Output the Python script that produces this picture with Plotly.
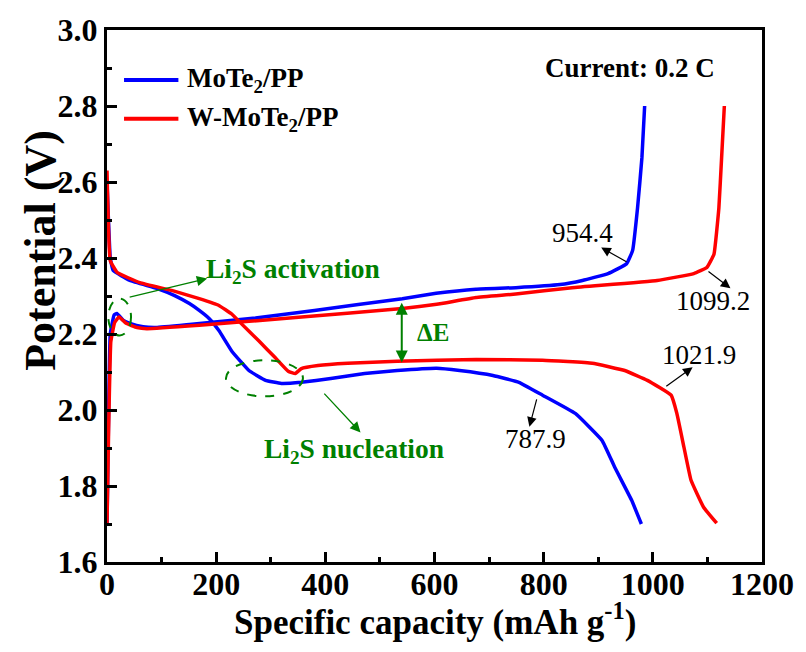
import numpy as np
import plotly.graph_objects as go

# ---- galvanostatic charge/discharge profiles at 0.2 C (capacity in mAh g-1, potential in V) ----
mote2_dis_cap = [0, 6, 11.4, 42, 91, 124, 151, 169, 187, 205, 229, 260, 290.5, 319.5, 356, 410,
                 472, 531.5, 604, 646, 707, 754.6, 798, 858, 907, 930, 961, 979]
mote2_dis_v = [2.60, 2.40, 2.367, 2.341, 2.32, 2.301, 2.28, 2.262, 2.241, 2.209, 2.154, 2.104,
               2.078, 2.07, 2.073, 2.083, 2.096, 2.104, 2.11, 2.104, 2.091, 2.073, 2.039,
               1.991, 1.92, 1.85, 1.763, 1.70]

mote2_chg_cap = [0, 3, 6, 13, 18, 30, 42, 66, 90, 151, 272, 380, 541, 603, 676, 749, 830,
                 871, 918, 952, 963, 972, 980, 985]
mote2_chg_v = [1.70, 2.00, 2.20, 2.25, 2.254, 2.236, 2.228, 2.219, 2.217, 2.225, 2.242, 2.262,
               2.293, 2.307, 2.318, 2.322, 2.330, 2.341, 2.359, 2.385, 2.42, 2.532, 2.664, 2.80]

wmote2_dis_cap = [0, 6, 18.7, 60, 120, 169, 205, 229, 247, 278, 308, 332, 345,
                  356, 386.5, 441, 531.5, 676.5, 798, 889, 948.5, 990, 1033.5, 1044, 1057,
                  1070, 1093, 1117]
wmote2_dis_v = [2.63, 2.393, 2.362, 2.335, 2.314, 2.293, 2.275, 2.252, 2.226, 2.182, 2.138,
                2.102, 2.096, 2.109, 2.117, 2.123, 2.128, 2.133, 2.131, 2.123,
                2.104, 2.078, 2.039, 1.991, 1.902, 1.815, 1.744, 1.702]

wmote2_chg_cap = [0, 3, 7, 14, 22, 35, 55, 73, 169, 351, 541, 604, 676, 749, 852, 1008,
                  1075, 1099, 1112, 1121, 1126, 1131]
wmote2_chg_v = [1.70, 1.95, 2.18, 2.23, 2.245, 2.228, 2.217, 2.214, 2.223, 2.244, 2.267,
                2.278, 2.296, 2.305, 2.322, 2.341, 2.359, 2.375, 2.41, 2.532, 2.664, 2.80]

# capacity call-outs
cap_mote2_dis = 787.9
cap_mote2_chg = 954.4
cap_wmote2_dis = 1021.9
cap_wmote2_chg = 1099.2

# axis ticks
x_ticks = [0, 200, 400, 600, 800, 1000, 1200]
y_ticks = [1.6, 1.8, 2.0, 2.2, 2.4, 2.6, 2.8, 3.0]

SERIF = "Liberation Serif"
BLUE = "#0000FF"
RED = "#FF0000"
GREEN = "#008000"

fig = go.Figure()
for cap, v, col in [(mote2_dis_cap, mote2_dis_v, BLUE), (mote2_chg_cap, mote2_chg_v, BLUE),
                    (wmote2_dis_cap, wmote2_dis_v, RED), (wmote2_chg_cap, wmote2_chg_v, RED)]:
    fig.add_trace(go.Scatter(x=cap, y=v, mode="lines", showlegend=False,
                             line=dict(color=col, width=3.5, shape="spline", smoothing=0.3)))

annotations = []
shapes = []

def callout(label, cap, v_curve, dy_tail, dx_head, dy_head, tx, ty):
    tail_y = v_curve + dy_tail
    annotations.append(dict(x=cap + dx_head, y=tail_y + dy_head, ax=cap, ay=tail_y,
                            xref="x", yref="y", axref="x", ayref="y", text="",
                            showarrow=True, arrowhead=2, arrowsize=1.6, arrowwidth=1.2,
                            arrowcolor="black", standoff=0, startstandoff=0))
    annotations.append(dict(x=tx, y=ty, xref="x", yref="y", text=label, showarrow=False,
                            font=dict(family=SERIF, size=27, color="black")))

callout(f"{cap_mote2_chg}", cap_mote2_chg, np.interp(cap_mote2_chg, mote2_chg_cap, mote2_chg_v),
        -0.005, -49, 0.04, 872, 2.467)
callout(f"{cap_wmote2_chg}", cap_wmote2_chg, np.interp(cap_wmote2_chg, wmote2_chg_cap, wmote2_chg_v),
        -0.008, 43, -0.047, 1110, 2.286)
callout(f"{cap_wmote2_dis}", cap_wmote2_dis, np.interp(cap_wmote2_dis, wmote2_dis_cap, wmote2_dis_v),
        0.01, 51, 0.053, 1084, 2.144)
callout(f"{cap_mote2_dis}", cap_mote2_dis, np.interp(cap_mote2_dis, mote2_dis_cap, mote2_dis_v),
        -0.015, -14, -0.076, 785, 1.923)

# Li2S activation / nucleation markers
annotations.append(dict(x=183.6, y=2.346, ax=38.8, ay=2.296, xref="x", yref="y", axref="x",
                        ayref="y", text="", showarrow=True, arrowhead=2, arrowsize=1.6,
                        arrowwidth=1.3, arrowcolor=GREEN, standoff=0))
annotations.append(dict(x=340, y=2.367, xref="x", yref="y", showarrow=False,
                        text="<b>Li<sub>2</sub>S activation</b>",
                        font=dict(family=SERIF, size=27.5, color=GREEN)))
annotations.append(dict(x=464.5, y=1.941, ax=395.5, ay=2.047, xref="x", yref="y", axref="x",
                        ayref="y", text="", showarrow=True, arrowhead=2, arrowsize=1.6,
                        arrowwidth=1.3, arrowcolor=GREEN, standoff=0))
annotations.append(dict(x=452, y=1.894, xref="x", yref="y", showarrow=False,
                        text="<b>Li<sub>2</sub>S nucleation</b>",
                        font=dict(family=SERIF, size=27.5, color=GREEN)))
shapes.append(dict(type="circle", xref="x", yref="y", x0=2.4, x1=44, y0=2.196, y1=2.293,
                   line=dict(color=GREEN, width=2, dash="dash")))
shapes.append(dict(type="circle", xref="x", yref="y", x0=218, x1=359, y0=2.036, y1=2.131,
                   line=dict(color=GREEN, width=2, dash="dash")))

# polarization gap
annotations.append(dict(x=540, y=2.125, ax=540, ay=2.286, xref="x", yref="y", axref="x",
                        ayref="y", text="", showarrow=True, arrowhead=2, arrowside="end+start",
                        arrowsize=1.2, arrowwidth=2, arrowcolor=GREEN, standoff=0,
                        startstandoff=0))
annotations.append(dict(x=597, y=2.204, xref="x", yref="y", showarrow=False, text="<b>ΔE</b>",
                        font=dict(family=SERIF, size=25, color=GREEN)))

annotations.append(dict(x=0.798, y=0.929, xref="paper", yref="paper", showarrow=False,
                        xanchor="center", yanchor="middle",
                        text="<b>Current: 0.2 C</b>",
                        font=dict(family=SERIF, size=27, color="black")))

# legend
for name, col, yp in [("MoTe<sub>2</sub>/PP", BLUE, 0.906), ("W-MoTe<sub>2</sub>/PP", RED, 0.833)]:
    shapes.append(dict(type="line", xref="paper", yref="paper", x0=0.026, x1=0.109, y0=yp, y1=yp,
                       line=dict(color=col, width=4)))
    annotations.append(dict(x=0.1197, y=yp, xref="paper", yref="paper", xanchor="left",
                            yanchor="middle", showarrow=False, text=f"<b>{name}</b>",
                            font=dict(family=SERIF, size=27, color="black")))

# axis titles
annotations.append(dict(x=0.5, y=-0.108, xref="paper", yref="paper", showarrow=False,
                        xanchor="center", yanchor="middle",
                        text="<b>Specific capacity (mAh g<sup>-1</sup>)</b>",
                        font=dict(family=SERIF, size=35, color="black")))
annotations.append(dict(x=-0.1007, y=0.585, xref="paper", yref="paper", showarrow=False,
                        textangle=-90, xanchor="center", yanchor="middle",
                        text="<b>Potential (V)</b>",
                        font=dict(family=SERIF, size=44, color="black")))

axis_common = dict(showline=True, linewidth=3, linecolor="black", mirror=True, ticks="inside",
                   ticklen=10, tickwidth=3, tickcolor="black", showgrid=False, zeroline=False,
                   tickfont=dict(family=SERIF, size=32, color="black"))

fig.update_layout(
    width=806, height=652,
    margin=dict(l=107, r=37, t=29, b=90),
    plot_bgcolor="white", paper_bgcolor="white",
    showlegend=False,
    annotations=annotations, shapes=shapes,
    xaxis=dict(range=[0, 1200], tickvals=x_ticks, ticktext=[f"<b>{t}</b>" for t in x_ticks],
               ticklabelstandoff=-8,
               minor=dict(dtick=100, ticks="inside", ticklen=5, tickwidth=3, tickcolor="black"),
               **axis_common),
    yaxis=dict(range=[1.6, 3.0], tickvals=y_ticks, ticktext=[f"<b>{t:.1f}</b>" for t in y_ticks],
               minor=dict(dtick=0.1, ticks="inside", ticklen=5, tickwidth=3, tickcolor="black"),
               **axis_common),
)

fig.write_html("out.html")
